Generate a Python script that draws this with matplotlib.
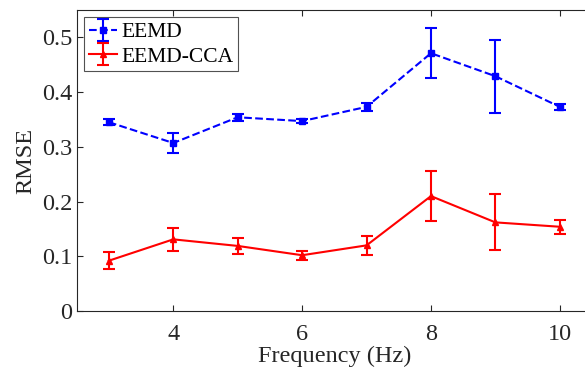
import matplotlib.pyplot as plt
import numpy as np

plt.rcParams['font.family'] = ['Liberation Serif', 'DejaVu Serif']

# données
freq = [3, 4, 5, 6, 7, 8, 9, 10]
eemd = [0.345, 0.307, 0.354, 0.347, 0.373, 0.471, 0.429, 0.373]
eemd_err = [0.005, 0.019, 0.006, 0.004, 0.007, 0.046, 0.067, 0.006]
cca = [0.092, 0.131, 0.119, 0.102, 0.120, 0.210, 0.162, 0.154]
cca_err = [0.016, 0.021, 0.014, 0.008, 0.018, 0.046, 0.051, 0.013]
xticks = [4, 6, 8, 10]
yticks = [0, 0.1, 0.2, 0.3, 0.4, 0.5]

fig = plt.figure(figsize=(5.85, 3.69), dpi=100)
ax = fig.add_axes([0.131, 0.157, 0.881, 0.816])

ax.errorbar(freq, eemd, yerr=eemd_err, color='blue', linestyle='--', linewidth=1.5,
            marker='s', markersize=5, capsize=4, elinewidth=1.5, capthick=1.5, label='EEMD')
ax.errorbar(freq, cca, yerr=cca_err, color='red', linestyle='-', linewidth=1.5,
            marker='^', markersize=5, capsize=4, elinewidth=1.5, capthick=1.5, label='EEMD-CCA')

ax.set_xlim(2.5, 10.5)
ax.set_ylim(0, 0.55)
ax.set_xticks(xticks)
ax.set_yticks(yticks)
ax.set_yticklabels(['0', '0.1', '0.2', '0.3', '0.4', '0.5'])
ax.tick_params(direction='in', top=True, right=True, labelsize=17.5, colors='#262626',
               length=4, pad=3)
ax.tick_params(axis='x', pad=9)
for s in ax.spines.values():
    s.set_color('#262626')
    s.set_linewidth(0.8)

ax.set_xlabel('Frequency (Hz)', fontsize=17.5, color='#262626', labelpad=1)
ax.set_ylabel('RMSE', fontsize=17.5, color='#262626', labelpad=4)

leg = ax.legend(loc='upper left', fontsize=15.5, frameon=True, fancybox=False,
                edgecolor='#262626', borderpad=0.22, handlelength=1.3, handletextpad=0.2,
                labelspacing=0.2, borderaxespad=0.35)
leg.get_frame().set_linewidth(0.8)

fig.savefig('out.png', dpi=100)
